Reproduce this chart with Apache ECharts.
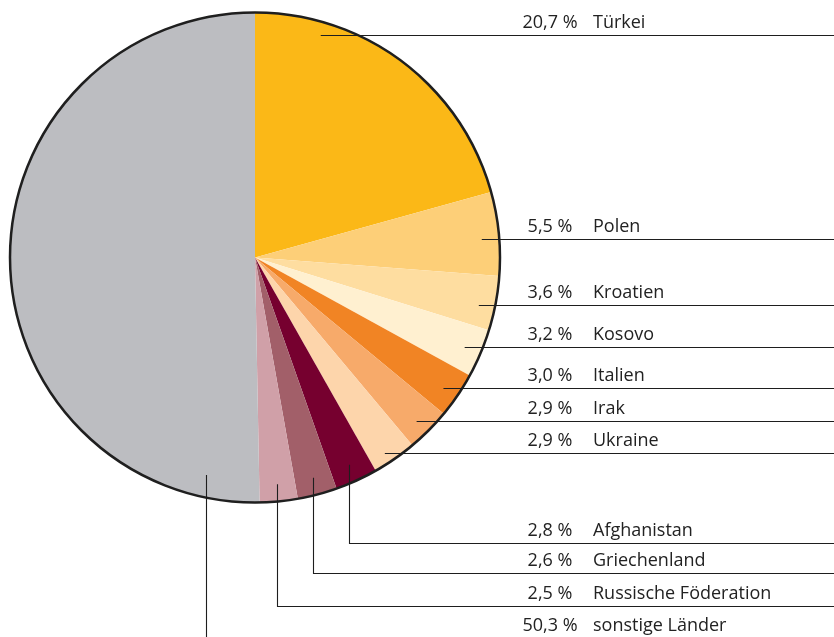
<!DOCTYPE html>
<html><head><meta charset="utf-8">
<script src="https://cdn.jsdelivr.net/npm/echarts@6/dist/echarts.min.js"></script>
<style>html,body{margin:0;padding:0;background:#fff}#c{width:834px;height:637px}</style>
</head><body><div id="c"></div><script>
// ---- data ----
const categories = ['Türkei','Polen','Kroatien','Kosovo','Italien','Irak','Ukraine','Afghanistan','Griechenland','Russische Föderation','sonstige Länder'];
const shares = [20.7, 5.5, 3.6, 3.2, 3.0, 2.9, 2.9, 2.8, 2.6, 2.5, 50.3];
const sliceColors = ['#FBB817','#FDCF78','#FEDDA0','#FFF0D0','#F18424','#F7AA6A','#FDD5AB','#76002F','#A25F69','#D0A0A8','#BCBDC1'];

// ---- layout of leader lines (annotation geometry) ----
const CX = 255, CY = 257.5, R = 245;
const leaderY = [35.5, 239.5, 305.5, 347.5, 388.5, 421.5, 453.5, 543.5, 573.5, 606.5, 638];
const leaderKind = ['chord','h','h','h','h','h','h','v','v','v','vdeg'];
const leaderDeg = [null,null,null,null,null,null,null,null,null,null,192.7];
const LABEL_X = 519, RIGHT = 834;
const TEXT = '#222', LINE = '#1e1e1e';

function fmtPct(v){ return v.toFixed(1).replace('.', ',') + ' %'; }

const pieData = categories.map((c, i) => ({name: c, value: shares[i], itemStyle: {color: sliceColors[i]}}));
const labelData = categories.map((c, i) => ({name: c, value: shares[i], itemStyle: {color: 'rgba(0,0,0,0)'}}));

const chart = echarts.init(document.getElementById('c'), null, {renderer:'canvas'});
chart.setOption({
  animation: false,
  backgroundColor: '#fff',
  series: [{
    type: 'pie',
    z: 1,
    center: [CX, CY],
    radius: R,
    startAngle: 90,
    clockwise: true,
    silent: true,
    emphasis: {disabled: true},
    data: pieData,
    itemStyle: {borderWidth: 0},
    label: {show: false},
    labelLine: {show: false}
  }, {
    type: 'pie',
    z: 2,
    center: [CX, CY],
    radius: R,
    silent: true,
    emphasis: {disabled: true},
    label: {show: false},
    labelLine: {show: false},
    data: [{value: 1, itemStyle: {color: 'rgba(0,0,0,0)', borderColor: '#1f1f1f', borderWidth: 2.5}}]
  }, {
    type: 'pie',
    z: 5,
    zlevel: 1,
    center: [CX, CY],
    radius: R,
    startAngle: 90,
    clockwise: true,
    avoidLabelOverlap: false,
    silent: true,
    emphasis: {disabled: true},
    data: labelData,
    itemStyle: {borderWidth: 0},
    label: {
      show: true,
      position: 'outside',
      formatter: p => '{p|' + fmtPct(p.value) + '}{n|' + p.name + '}',
      color: TEXT,
      fontFamily: 'Open Sans',
      fontSize: 18,
      rich: {
        p: {width: 62, align: 'right', color: TEXT, fontFamily: 'Open Sans', fontSize: 18},
        n: {padding: [0,0,0,12], color: TEXT, fontFamily: 'Open Sans', fontSize: 18}
      }
    },
    labelLine: {show: true, length: 10, length2: 10, smooth: false, lineStyle: {color: LINE, width: 1.1}},
    labelLayout: function (params) {
      const i = params.dataIndex;
      const y = leaderY[i];
      const p0 = params.labelLinePoints && params.labelLinePoints[0];
      let ang = p0 ? Math.atan2(p0[1] - CY, p0[0] - CX) : 0;
      const rA = R * 0.93;
      let pts;
      const kind = leaderKind[i];
      if (kind === 'h') {
        const ax = CX + rA * Math.cos(ang);
        pts = [[ax, y], [RIGHT, y]];
      } else if (kind === 'chord') {
        const rc = R * 0.945;
        const ax = CX + Math.sqrt(rc * rc - (y - CY) * (y - CY));
        pts = [[ax, y], [RIGHT, y]];
      } else {
        if (kind === 'vdeg') {
          ang = leaderDeg[i] * Math.PI / 180 - Math.PI / 2;
        }
        const rr = kind === 'vdeg' ? R * 0.91 : rA;
        const ax = Math.round(CX + rr * Math.cos(ang)) + 0.5;
        const ay = CY + rr * Math.sin(ang);
        pts = [[ax, ay], [ax, y], [RIGHT, y]];
      }
      return {x: LABEL_X, y: Math.floor(y) - 3, align: 'left', verticalAlign: 'bottom', labelLinePoints: pts};
    }
  }]
});
</script></body></html>
